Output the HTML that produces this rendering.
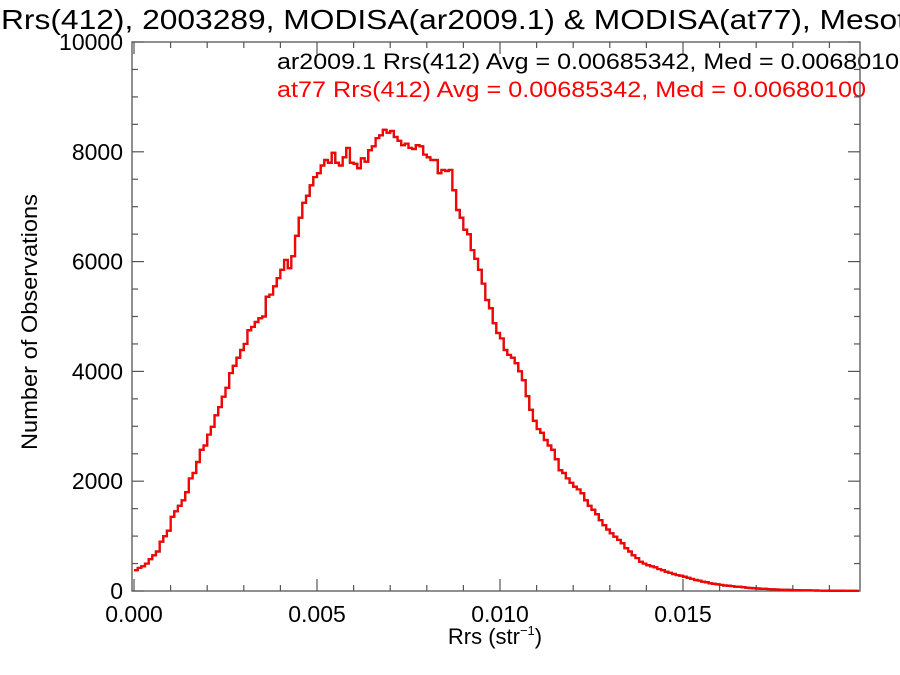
<!DOCTYPE html>
<html><head><meta charset="utf-8"><style>
html,body{margin:0;padding:0;background:#fff;}
svg{display:block;font-family:"Liberation Sans",sans-serif;}
</style></head><body>
<svg id="chart" width="900" height="675" viewBox="0 0 900 675">
<text x="1" y="29" font-size="28" textLength="905" lengthAdjust="spacingAndGlyphs" fill="#000">Rrs(412), 2003289, MODISA(ar2009.1) &amp; MODISA(at77), Mesot</text>
<text x="277" y="69" font-size="22" textLength="622" lengthAdjust="spacingAndGlyphs" fill="#000">ar2009.1 Rrs(412) Avg = 0.00685342, Med = 0.0068010</text>
<text x="277" y="97" font-size="22" textLength="589" lengthAdjust="spacingAndGlyphs" fill="#ff0000">at77 Rrs(412) Avg = 0.00685342, Med = 0.00680100</text>
<text transform="translate(37,322) rotate(-90)" text-anchor="middle" font-size="22" textLength="256" lengthAdjust="spacingAndGlyphs">Number of Observations</text>
<text x="495" y="644" text-anchor="middle" font-size="22">Rrs (str<tspan font-size="13" dy="-9">−1</tspan><tspan dy="9">)</tspan></text>
<g id="axes"></g>
<g id="series"></g>
</svg>
<script>
const xTicks = [0, 0.005, 0.010, 0.015];
const xTickLabels = ["0.000", "0.005", "0.010", "0.015"];
const yTicks = [0, 2000, 4000, 6000, 8000, 10000];
const yTickLabels = ["0", "2000", "4000", "6000", "8000", "10000"];
const binStart = 0;
const binWidth = 0.0001;
const counts = [
380,420,450,500,580,650,720,900,1000,1100,
1350,1450,1550,1650,1800,2050,2150,2350,2570,2650,
2850,2990,3200,3350,3540,3700,3970,4100,4250,4390,
4500,4750,4810,4900,4970,5000,5360,5400,5550,5700,
5850,6030,5880,6100,6470,6800,7070,7200,7390,7540,
7610,7750,7850,7800,7980,7800,7750,7900,8070,7800,
7780,7700,7880,7820,8030,8100,8250,8300,8400,8350,
8380,8270,8200,8120,8150,8070,8050,8120,8100,7950,
7900,7850,7850,7610,7670,7650,7670,7300,6940,6800,
6580,6500,6210,6050,5850,5600,5300,5150,4880,4700,
4600,4390,4300,4250,4150,4000,3840,3550,3300,3100,
2950,2880,2750,2650,2570,2400,2200,2150,2050,1970,
1900,1850,1780,1650,1550,1480,1400,1290,1200,1120,
1050,990,930,870,780,720,650,600,530,500,
470,450,430,400,380,350,330,310,290,280,
260,240,220,200,190,170,160,140,130,120,
110,100,95,90,80,75,70,60,55,50,
45,40,38,35,30,28,25,22,20,18,
16,15,13,12,11,10,9,8,7,6,
5,5,4,4,3,3,2,2];
const countsAt77 = counts.slice();

const NS = "http://www.w3.org/2000/svg";
const L = 132, R = 860, T = 42, B = 591;
const yMin = 0, yMax = 10000;
const x0px = 134, pxPerUnit = (317 - 134) / 0.005;
function sx(v){ return x0px + v * pxPerUnit; }
function sy(v){ return B - (v - yMin) / (yMax - yMin) * (B - T); }

const axes = document.getElementById('axes');
const series = document.getElementById('series');
function mk(tag, attrs, parent){
  const e = document.createElementNS(NS, tag);
  for (const k in attrs) e.setAttribute(k, attrs[k]);
  parent.appendChild(e);
  return e;
}
const frame = mk('rect', {x:L, y:T, width:R-L, height:B-T, fill:'none', stroke:'#555', 'stroke-width':1.3}, axes);



for (let v = 0; v <= 0.0195; v += 0.001) {
  const isMajor = Math.abs(v/0.005 - Math.round(v/0.005)) < 1e-6;
  const len = isMajor ? 12 : 6;
  const t1 = mk('line', {x1:sx(v), x2:sx(v), y1:B, y2:B-len, stroke:'#555', 'stroke-width':1.2}, axes);
  
  
  const t2 = mk('line', {x1:sx(v), x2:sx(v), y1:T, y2:T+len, stroke:'#555', 'stroke-width':1.2}, axes);
  
  
}
xTicks.forEach((v, i) => {
  const t = mk('text', {x:sx(v), y:B+31, 'text-anchor':'middle', 'font-size':23}, axes);
  t.textContent = xTickLabels[i];
  
  
});
for (let v = 0; v <= 10000; v += 500) {
  const isMajor = v % 2000 === 0;
  const len = isMajor ? 12 : 6;
  const t1 = mk('line', {x1:L, x2:L+len, y1:sy(v), y2:sy(v), stroke:'#555', 'stroke-width':1.2}, axes);
  
  
  const t2 = mk('line', {x1:R, x2:R-len, y1:sy(v), y2:sy(v), stroke:'#555', 'stroke-width':1.2}, axes);
  
  
}
yTicks.forEach((v, i) => {
  const t = mk('text', {x:123, y:sy(v)+8, 'text-anchor':'end', 'font-size':23}, axes);
  t.textContent = yTickLabels[i];
  
  
});

function stepPath(arr){
  let d = '';
  arr.forEach((c, i) => {
    const xa = sx(binStart + i*binWidth), xb = sx(binStart + (i+1)*binWidth);
    const y = sy(c);
    d += (i === 0 ? 'M' : 'L') + Math.max(xa, L).toFixed(2) + ',' + y.toFixed(2) + 'L' + Math.min(xb, R).toFixed(2) + ',' + y.toFixed(2);
  });
  return d;
}
const p1 = mk('path', {d:stepPath(counts), fill:'none', stroke:'#000', 'stroke-width':2.2}, series);


const p2 = mk('path', {d:stepPath(countsAt77), fill:'none', stroke:'#ff0000', 'stroke-width':2.2}, series);


</script>
</body></html>
